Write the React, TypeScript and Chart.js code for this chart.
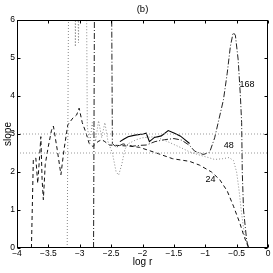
import React, { useEffect, useRef } from "react";
import { Chart, registerables } from "chart.js";

Chart.register(...registerables);

// Series "24" (dashed)
const X24 = [-3.77, -3.74, -3.70, -3.67, -3.64, -3.62, -3.60, -3.58, -3.55, -3.50, -3.45, -3.42, -3.36, -3.30, -3.25, -3.19, -3.11, -3.05, -3.01, -2.96, -2.90, -2.85, -2.79, -2.71, -2.65, -2.60, -2.53, -2.40, -2.20, -2.05, -1.83, -1.52, -1.25, -1.09, -0.90, -0.77, -0.65, -0.55, -0.45, -0.38, -0.32, -0.30];
const Y24 = [0, 2.32, 2.37, 1.70, 2.40, 2.93, 1.80, 1.27, 2.20, 2.68, 3.10, 3.21, 2.60, 1.93, 2.60, 3.24, 3.42, 3.50, 3.68, 3.30, 3.03, 2.75, 2.67, 2.80, 2.85, 2.80, 2.71, 2.70, 2.68, 2.65, 2.53, 2.35, 2.28, 2.18, 2.00, 1.80, 1.50, 1.10, 0.66, 0.30, 0.05, 0];

// Series "48" (dotted)
const X48 = [-3.20, -3.17, -3.08, -3.07, -3.05, -3.02, -3.00, -2.90, -2.88, -2.84, -2.80, -2.75, -2.70, -2.65, -2.60, -2.55, -2.48, -2.42, -2.38, -2.33, -2.28, -2.22, -2.10, -2.00, -1.80, -1.60, -1.40, -1.25, -1.10, -0.95, -0.85, -0.72, -0.62, -0.55, -0.50, -0.46, -0.42, -0.38, -0.33, -0.31];
const Y48 = [0, 9, 9, 5.3, 9, 5.4, 9, 9, 3.2, 2.75, 3.3, 2.8, 3.35, 2.9, 3.3, 2.8, 2.5, 2.0, 1.92, 2.2, 2.6, 2.75, 2.85, 2.9, 2.93, 2.8, 2.65, 2.53, 2.45, 2.38, 2.33, 2.35, 2.38, 2.30, 2.0, 1.5, 0.9, 0.4, 0.05, 0];

// Solid series
const XSOLID = [-2.36, -2.30, -2.23, -2.12, -1.99, -1.94, -1.89, -1.81, -1.70, -1.59, -1.49, -1.40, -1.33, -1.25];
const YSOLID = [2.80, 2.86, 2.93, 2.97, 3.00, 3.02, 2.80, 2.91, 2.95, 3.09, 3.02, 2.95, 2.86, 2.75];

// Series "168" (dash-dot)
const X168 = [-2.78, -2.76, -2.50, -2.48, -2.42, -2.31, -2.16, -2.05, -1.94, -1.80, -1.65, -1.50, -1.38, -1.25, -1.17, -1.03, -0.93, -0.85, -0.78, -0.71, -0.65, -0.60, -0.555, -0.52, -0.475, -0.44, -0.42, -0.41, -0.39, -0.34, -0.31];
const Y168 = [0, 9, 9, 2.75, 2.65, 2.74, 2.68, 2.70, 2.71, 2.80, 2.85, 2.88, 2.84, 2.70, 2.55, 2.46, 2.52, 2.90, 3.40, 3.90, 4.60, 5.30, 5.67, 5.60, 4.95, 4.00, 3.30, 2.00, 1.00, 0.20, 0];

// Reference lines
const REF_X = [-4, 0];
const REF_Y1 = [3, 3];
const REF_Y2 = [2.5, 2.5];

// Axis ticks
const X_TICKS = [-4, -3.5, -3, -2.5, -2, -1.5, -1, -0.5, 0];
const Y_TICKS = [0, 1, 2, 3, 4, 5, 6];

// Curve labels
const LABELS = ["168", "48", "24"];
const LABEL_X = [-0.336, -0.624, -0.917];
const LABEL_Y = [4.29, 2.70, 1.79];
const TITLE = "(b)";

const FONT = "'Liberation Sans', Arial, sans-serif";

const pts = (xs: number[], ys: number[]) => xs.map((x, i) => ({ x, y: ys[i] }));
const fmt = (v: number) => (v < 0 ? "\u2212" + Math.abs(v) : String(v));

const framePlugin = {
  id: "frame",
  afterDatasetsDraw(chart: any) {
    const { ctx, chartArea: a, scales } = chart;
    const xs = scales.x;
    const ys = scales.y;
    ctx.save();
    ctx.strokeStyle = "#000";
    ctx.lineWidth = 1;
    ctx.setLineDash([]);
    const L = Math.round(a.left) + 0.5;
    const R = Math.round(a.right) - 0.5;
    const T = Math.round(a.top) + 0.5;
    const B = Math.round(a.bottom) - 0.5;
    ctx.strokeRect(L, T, R - L, B - T);
    const tl = 3;
    ctx.beginPath();
    X_TICKS.forEach((v) => {
      const px = Math.round(xs.getPixelForValue(v)) + 0.5;
      ctx.moveTo(px, B);
      ctx.lineTo(px, B - tl);
      ctx.moveTo(px, T);
      ctx.lineTo(px, T + tl);
    });
    Y_TICKS.forEach((v) => {
      const py = Math.round(ys.getPixelForValue(v)) + 0.5;
      ctx.moveTo(L, py);
      ctx.lineTo(L + tl, py);
      ctx.moveTo(R, py);
      ctx.lineTo(R - tl, py);
    });
    ctx.stroke();

    ctx.fillStyle = "#000";
    ctx.font = `9px ${FONT}`;
    ctx.textAlign = "center";
    ctx.textBaseline = "middle";
    LABELS.forEach((t, i) => {
      ctx.fillText(t, xs.getPixelForValue(LABEL_X[i]), ys.getPixelForValue(LABEL_Y[i]));
    });
    ctx.font = `9.5px ${FONT}`;
    ctx.fillText(TITLE, (a.left + a.right) / 2, 9);
    ctx.restore();
  },
};

export default function App() {
  const ref = useRef<HTMLCanvasElement | null>(null);
  useEffect(() => {
    document.body.style.margin = "0";
    const canvas = ref.current;
    if (!canvas) return;
    const chart = new Chart(canvas, {
      type: "scatter",
      data: {
        datasets: [
          { data: pts(REF_X, REF_Y1), borderColor: "#999", borderWidth: 1, borderDash: [1, 2], showLine: true, pointRadius: 0 },
          { data: pts(REF_X, REF_Y2), borderColor: "#999", borderWidth: 1, borderDash: [1, 2], showLine: true, pointRadius: 0 },
          { data: pts(X48, Y48), borderColor: "#888", borderWidth: 1, borderDash: [1, 2], showLine: true, pointRadius: 0 },
          { data: pts(X24, Y24), borderColor: "#111", borderWidth: 1, borderDash: [4, 3], showLine: true, pointRadius: 0 },
          { data: pts(X168, Y168), borderColor: "#222", borderWidth: 1, borderDash: [6, 2, 1, 2], showLine: true, pointRadius: 0 },
          { data: pts(XSOLID, YSOLID), borderColor: "#000", borderWidth: 1.1, showLine: true, pointRadius: 0 },
        ],
      },
      options: {
        animation: false,
        responsive: false,
        events: [],
        layout: { padding: { top: 20, right: 5, left: 0, bottom: 0 } },
        plugins: { legend: { display: false }, tooltip: { enabled: false }, title: { display: false } },
        scales: {
          x: {
            type: "linear",
            min: -4,
            max: 0,
            grid: { display: false, drawTicks: false },
            border: { display: false },
            afterBuildTicks: (s: any) => { s.ticks = X_TICKS.map((v) => ({ value: v })); },
            ticks: { color: "#000", font: { family: FONT, size: 8.5 }, padding: 1, maxRotation: 0, autoSkip: false, callback: (v: any) => fmt(Number(v)) },
            title: { display: true, text: "log r", color: "#000", font: { family: FONT, size: 10 }, padding: { top: 0, bottom: 4.5 } },
            afterFit: (s: any) => { s.height = 25; },
          },
          y: {
            type: "linear",
            min: 0,
            max: 6,
            grid: { display: false, drawTicks: false },
            border: { display: false },
            afterBuildTicks: (s: any) => { s.ticks = Y_TICKS.map((v) => ({ value: v })); },
            ticks: { color: "#000", font: { family: FONT, size: 8.5 }, padding: 2, autoSkip: false, callback: (v: any) => fmt(Number(v)) },
            title: { display: true, text: "slope", color: "#000", font: { family: FONT, size: 10 }, padding: { top: 2, bottom: 0 } },
            afterFit: (s: any) => { s.width = 17; },
          },
        },
      },
      plugins: [framePlugin],
    });
    return () => chart.destroy();
  }, []);
  return (
    <div style={{ width: 273, height: 273 }}>
      <canvas ref={ref} width={273} height={273} style={{ display: "block" }} />
    </div>
  );
}
